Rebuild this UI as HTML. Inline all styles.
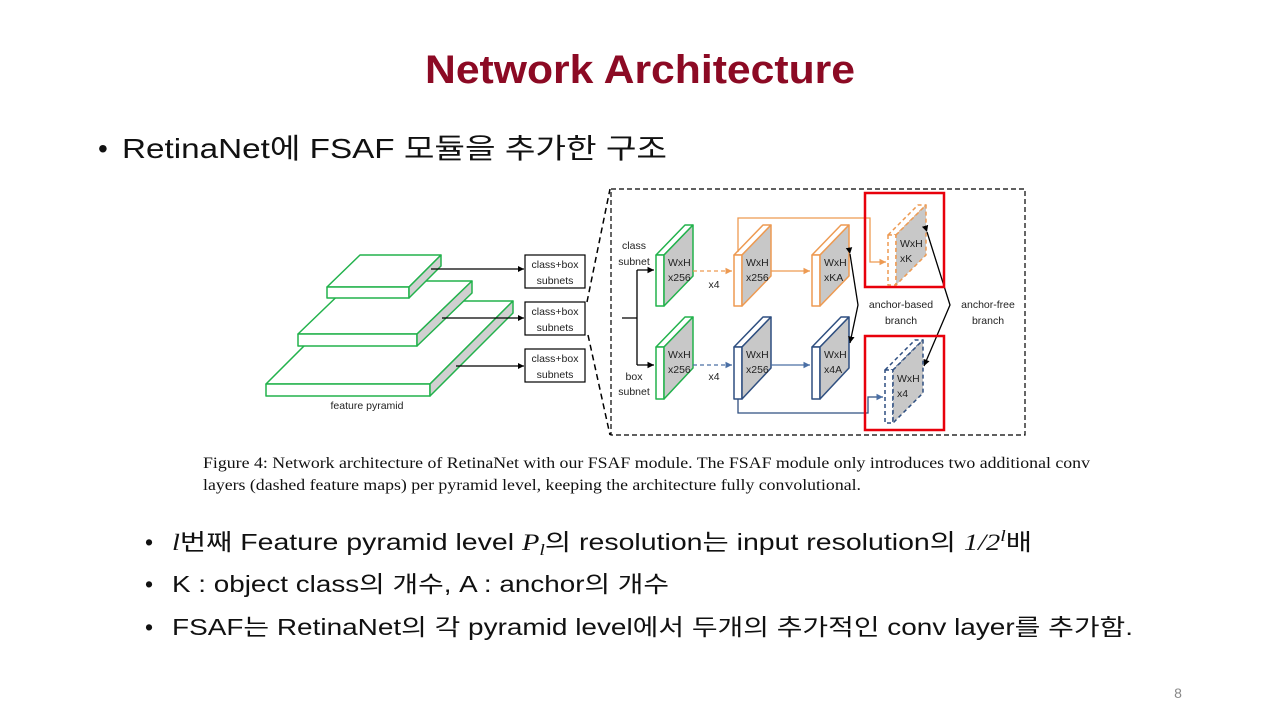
<!DOCTYPE html>
<html><head><meta charset="utf-8"><style>
html,body{margin:0;padding:0;background:#fff;}
svg{display:block;}
.k{font-family:"Liberation Sans","Noto Sans CJK KR","NanumGothic",sans-serif;}
.m{font-family:"Liberation Serif","DejaVu Serif",serif;font-style:italic;}
.s{font-family:"Liberation Sans",sans-serif;font-size:10.5px;fill:#222;}
.c{font-family:"Liberation Serif",serif;font-size:15.5px;fill:#111;}
</style></head><body>
<svg width="1280" height="720" viewBox="0 0 1280 720" xmlns="http://www.w3.org/2000/svg">
<defs>
<marker id="ab" markerWidth="6" markerHeight="6" refX="5" refY="3" orient="auto"><path d="M0,0.5 L5,3 L0,5.5 Z" fill="#000"/></marker>
<marker id="ao" markerWidth="6" markerHeight="6" refX="5" refY="3" orient="auto"><path d="M0,0.5 L5,3 L0,5.5 Z" fill="#ed9a52"/></marker>
<marker id="au" markerWidth="6" markerHeight="6" refX="5" refY="3" orient="auto"><path d="M0,0.5 L5,3 L0,5.5 Z" fill="#4a6fa5"/></marker>
</defs>

<text x="640" y="83" text-anchor="middle" font-family="Liberation Sans,sans-serif" font-weight="bold" font-size="40" fill="#8c0a24" textLength="430" lengthAdjust="spacingAndGlyphs">Network Architecture</text>

<text class="k" x="98" y="158" font-size="28" fill="#111">•</text>
<text class="k" x="122" y="158" font-size="28" fill="#111" textLength="545" lengthAdjust="spacingAndGlyphs">RetinaNet에 FSAF 모듈을 추가한 구조</text>

<!-- pyramid -->
<g stroke="#22b24c" stroke-width="1.5" stroke-linejoin="round">
 <polygon points="266,384 349,301 513,301 430,384" fill="#fff"/>
 <rect x="266" y="384" width="164" height="12" fill="#fff"/>
 <polygon points="430,384 513,301 513,313 430,396" fill="#d0d0d0"/>
 <polygon points="298,334 353,281 472,281 417,334" fill="#fff"/>
 <rect x="298" y="334" width="119" height="12" fill="#fff"/>
 <polygon points="417,334 472,281 472,293 417,346" fill="#d0d0d0"/>
 <polygon points="327,287 360,255 441,255 409,287" fill="#fff"/>
 <rect x="327" y="287" width="82" height="11" fill="#fff"/>
 <polygon points="409,287 441,255 441,266 409,298" fill="#d0d0d0"/>
</g>
<text class="s" x="367" y="409" text-anchor="middle">feature pyramid</text>
<g stroke="#000" stroke-width="1.2">
 <line x1="431" y1="269" x2="524" y2="269" marker-end="url(#ab)"/>
 <line x1="442" y1="318" x2="524" y2="318" marker-end="url(#ab)"/>
 <line x1="456" y1="366" x2="524" y2="366" marker-end="url(#ab)"/>
</g>
<g fill="#fff" stroke="#000" stroke-width="1.2">
 <rect x="525" y="255" width="60" height="33"/>
 <rect x="525" y="302" width="60" height="33"/>
 <rect x="525" y="349" width="60" height="33"/>
</g>
<g class="s" text-anchor="middle">
 <text x="555" y="268">class+box</text><text x="555" y="284">subnets</text>
 <text x="555" y="315">class+box</text><text x="555" y="331">subnets</text>
 <text x="555" y="362">class+box</text><text x="555" y="378">subnets</text>
</g>
<g stroke="#000" stroke-width="1.5" stroke-dasharray="6,4" fill="none">
 <line x1="587" y1="302" x2="610" y2="189"/>
 <line x1="588" y1="335" x2="610" y2="435"/>
 <rect x="611" y="189" width="414" height="246" stroke-width="1.2" stroke-dasharray="5,3"/>
</g>

<g stroke-width="1.5" stroke-linejoin="round">
 <g stroke="#22b24c"><polygon points="656,255 685,225 693,225 664,255" fill="#fff"/><rect x="656" y="255" width="8" height="51" fill="#fff"/><polygon points="664,255 693,225 693,276 664,306" fill="#c8c8c8"/></g>
 <g stroke="#22b24c"><polygon points="656,347 685,317 693,317 664,347" fill="#fff"/><rect x="656" y="347" width="8" height="52" fill="#fff"/><polygon points="664,347 693,317 693,368 664,399" fill="#c8c8c8"/></g>
 <g stroke="#ed9a52"><polygon points="734,255 763,225 771,225 742,255" fill="#fff"/><rect x="734" y="255" width="8" height="51" fill="#fff"/><polygon points="742,255 771,225 771,276 742,306" fill="#c8c8c8"/></g>
 <g stroke="#ed9a52"><polygon points="812,255 841,225 849,225 820,255" fill="#fff"/><rect x="812" y="255" width="8" height="51" fill="#fff"/><polygon points="820,255 849,225 849,276 820,306" fill="#c8c8c8"/></g>
 <g stroke="#2f4f80"><polygon points="734,347 763,317 771,317 742,347" fill="#fff"/><rect x="734" y="347" width="8" height="52" fill="#fff"/><polygon points="742,347 771,317 771,368 742,399" fill="#c8c8c8"/></g>
 <g stroke="#2f4f80"><polygon points="812,347 841,317 849,317 820,347" fill="#fff"/><rect x="812" y="347" width="8" height="52" fill="#fff"/><polygon points="820,347 849,317 849,368 820,399" fill="#c8c8c8"/></g>
 <g stroke="#ed9a52" stroke-dasharray="4,3"><polygon points="888,235 918,205 926,205 896,235" fill="#fff"/><rect x="888" y="235" width="8" height="50" fill="#fff"/><polygon points="896,235 926,205 926,255 896,285" fill="#c8c8c8"/></g>
 <g stroke="#2f4f80" stroke-dasharray="4,3"><polygon points="885,370 915,340 923,340 893,370" fill="#fff"/><rect x="885" y="370" width="8" height="53" fill="#fff"/><polygon points="893,370 923,340 923,393 893,423" fill="#c8c8c8"/></g>
</g>
<g class="s">
 <text x="668" y="266">WxH</text><text x="668" y="281">x256</text>
 <text x="668" y="358">WxH</text><text x="668" y="373">x256</text>
 <text x="746" y="266">WxH</text><text x="746" y="281">x256</text>
 <text x="746" y="358">WxH</text><text x="746" y="373">x256</text>
 <text x="824" y="266">WxH</text><text x="824" y="281">xKA</text>
 <text x="824" y="358">WxH</text><text x="824" y="373">x4A</text>
 <text x="900" y="247">WxH</text><text x="900" y="262">xK</text>
 <text x="897" y="382">WxH</text><text x="897" y="397">x4</text>
 <text x="634" y="249" text-anchor="middle">class</text><text x="634" y="265" text-anchor="middle">subnet</text>
 <text x="634" y="380" text-anchor="middle">box</text><text x="634" y="395" text-anchor="middle">subnet</text>
 <text x="714" y="288" text-anchor="middle">x4</text><text x="714" y="380" text-anchor="middle">x4</text>
 <text x="901" y="308" text-anchor="middle">anchor-based</text><text x="901" y="324" text-anchor="middle">branch</text>
 <text x="988" y="308" text-anchor="middle">anchor-free</text><text x="988" y="324" text-anchor="middle">branch</text>
</g>
<g fill="none" stroke-width="1.3">
 <path d="M622,318 H637 M637,270 V365" stroke="#000"/>
 <path d="M637,270 H654" stroke="#000" marker-end="url(#ab)"/>
 <path d="M637,365 H654" stroke="#000" marker-end="url(#ab)"/>
 <path d="M693,271 H732" stroke="#ed9a52" stroke-dasharray="4,3" marker-end="url(#ao)"/>
 <path d="M693,365 H732" stroke="#4a6fa5" stroke-dasharray="4,3" marker-end="url(#au)"/>
 <path d="M771,271 H810" stroke="#ed9a52" marker-end="url(#ao)"/>
 <path d="M771,365 H810" stroke="#4a6fa5" marker-end="url(#au)"/>
 <path d="M738,252 V218 H870 V262 H886" stroke="#ed9a52" marker-end="url(#ao)"/>
 <path d="M738,399 V413 H868 V397 H883" stroke="#2f4f80" marker-end="url(#au)"/>
 <path d="M850,254 L858,305 L850,343" stroke="#000" marker-start="url(#ab)" marker-end="url(#ab)"/>
 <path d="M927,232 L950,305 L924,366" stroke="#000" marker-start="url(#ab)" marker-end="url(#ab)"/>
</g>
<g fill="none" stroke="#e8000b" stroke-width="2.5">
 <rect x="865" y="193" width="79" height="94"/>
 <rect x="865" y="336" width="79" height="94"/>
</g>

<text class="c" x="203" y="468" textLength="887" lengthAdjust="spacingAndGlyphs">Figure 4: Network architecture of RetinaNet with our FSAF module. The FSAF module only introduces two additional conv</text>
<text class="c" x="203" y="490" textLength="658" lengthAdjust="spacingAndGlyphs">layers (dashed feature maps) per pyramid level, keeping the architecture fully convolutional.</text>

<g class="k" font-size="23" fill="#111">
 <text x="145" y="550">•</text>
 <text x="172" y="550" textLength="860" lengthAdjust="spacingAndGlyphs"><tspan class="m">l</tspan>번째 Feature pyramid level <tspan class="m">P</tspan><tspan class="m" font-size="16" dy="5">l</tspan><tspan dy="-5">의 resolution는 input resolution의 </tspan><tspan class="m">1/2</tspan><tspan class="m" font-size="16" dy="-9">l</tspan><tspan dy="9">배</tspan></text>
 <text x="145" y="592">•</text>
 <text x="172" y="592" textLength="497" lengthAdjust="spacingAndGlyphs">K : object class의 개수, A : anchor의 개수</text>
 <text x="145" y="635">•</text>
 <text x="172" y="635" textLength="961" lengthAdjust="spacingAndGlyphs">FSAF는 RetinaNet의 각 pyramid level에서 두개의 추가적인 conv layer를 추가함.</text>
</g>
<text x="1178" y="698" font-family="Liberation Sans,sans-serif" font-size="14" fill="#888" text-anchor="middle">8</text>
</svg>
</body></html>
